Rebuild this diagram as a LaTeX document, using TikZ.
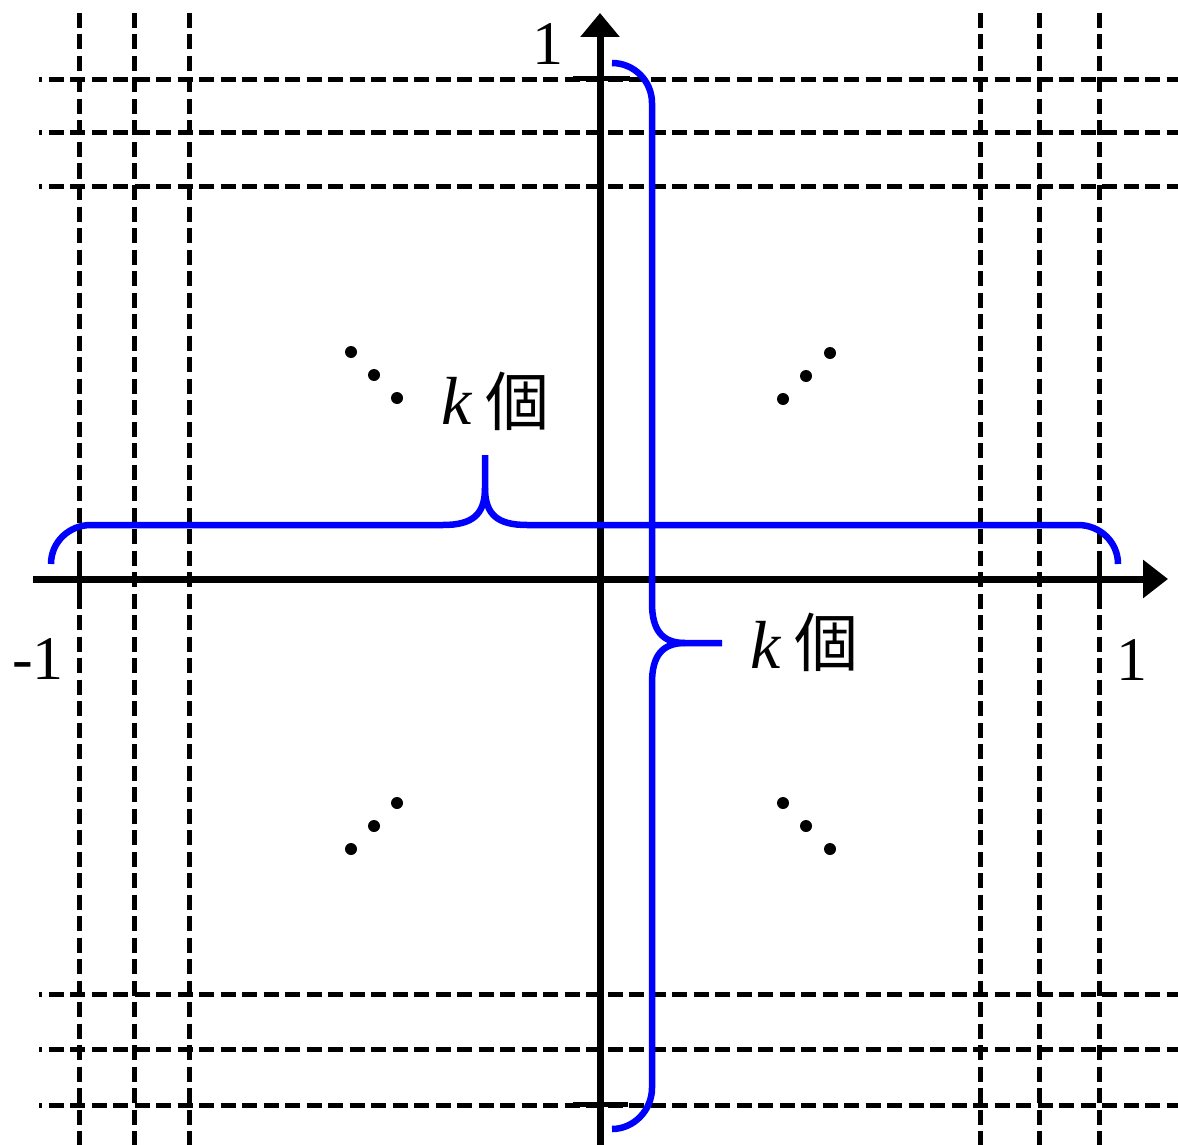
\documentclass[tikz,border=0pt]{standalone}
\usepackage{fontspec}
\setmainfont{Liberation Serif}
\newfontfamily\cjk{Noto Sans CJK JP}
\usetikzlibrary{arrows.meta}
\begin{document}
\begin{tikzpicture}[x=1pt,y=-1pt,
  grid/.style={line width=5pt,dash pattern=on 15pt off 6.5pt},
  axis/.style={line width=7pt},
  tick/.style={line width=5pt},
  brace/.style={line width=6.5pt,draw={rgb,255:red,0;green,0;blue,255},line cap=butt},
  lbl/.style={inner sep=0pt,font=\fontsize{62}{62}\selectfont},
  kl/.style={inner sep=0pt,font=\fontsize{68}{68}\selectfont\itshape},
  ko/.style={inner sep=0pt,font=\fontsize{64}{64}\selectfont\cjk},
  dot/.style={circle,fill=black,inner sep=0pt,minimum size=12pt}]
\useasboundingbox (0,0) rectangle (1178,1145);
% dashed grid
\foreach \x in {79,134,189,980,1039,1099}
  \draw[grid] (\x,13) -- (\x,1145);
\foreach \y in {80,133,186,994,1049,1105}
  \draw[grid,dash phase=12pt] (39,\y) -- (1178,\y);
% axes
\coordinate (xs) at (33,579);
\coordinate (xe) at (1168,579);
\coordinate (ys) at (600,1145);
\coordinate (ye) at (600,13);
\draw[axis,-{Triangle[length=25pt,width=37pt]}] (xs) -- (xe);
\draw[axis,-{Triangle[length=24pt,width=38pt]}] (ys) -- (ye);
% ticks
\draw[tick] (573,79) -- (630,79);
\draw[tick] (573,1104) -- (628,1104);
\draw[tick] (79,552) -- (79,607);
\draw[tick] (1099,552) -- (1099,607);
% tick labels
\node[lbl] (ly1) at (548,44) {1};
\node[lbl] (lxm) at (38,659) {-1};
\node[lbl] (lx1) at (1132,660) {1};
% dots
\foreach \n/\a/\b in {a1/351/352,a2/374/375,a3/397/398,
                       b1/830/353,b2/806/376,b3/783/399,
                       c1/351/849,c2/374/826,c3/397/803,
                       d1/783/803,d2/806/826,d3/830/849}
  \node[dot] (\n) at (\a,\b) {};
% horizontal brace
\draw[brace] (51,564) .. controls (51,542) and (69,525) .. (91,525)
  -- (443,525) .. controls (472,525) and (485,515) .. (485,488) -- (485,455);
\draw[brace] (485,488) .. controls (485,515) and (498,525) .. (527,525)
  -- (1078,525) .. controls (1100,525) and (1118,542) .. (1118,564);
% vertical brace
\draw[brace] (612,63) .. controls (634,63) and (652,81) .. (652,103)
  -- (652,603) .. controls (652,630) and (662,643) .. (685,643) -- (722,643);
\draw[brace] (685,643) .. controls (662,643) and (652,656) .. (652,683)
  -- (652,1088) .. controls (652,1110) and (634,1129) .. (612,1129);
% labels
\node[kl] (k1) at (457,401) {k};
\node[ko] (o1) at (517,401) {個};
\node[kl] (k2) at (766,645) {k};
\node[ko] (o2) at (826,642) {個};
\end{tikzpicture}
\end{document}
